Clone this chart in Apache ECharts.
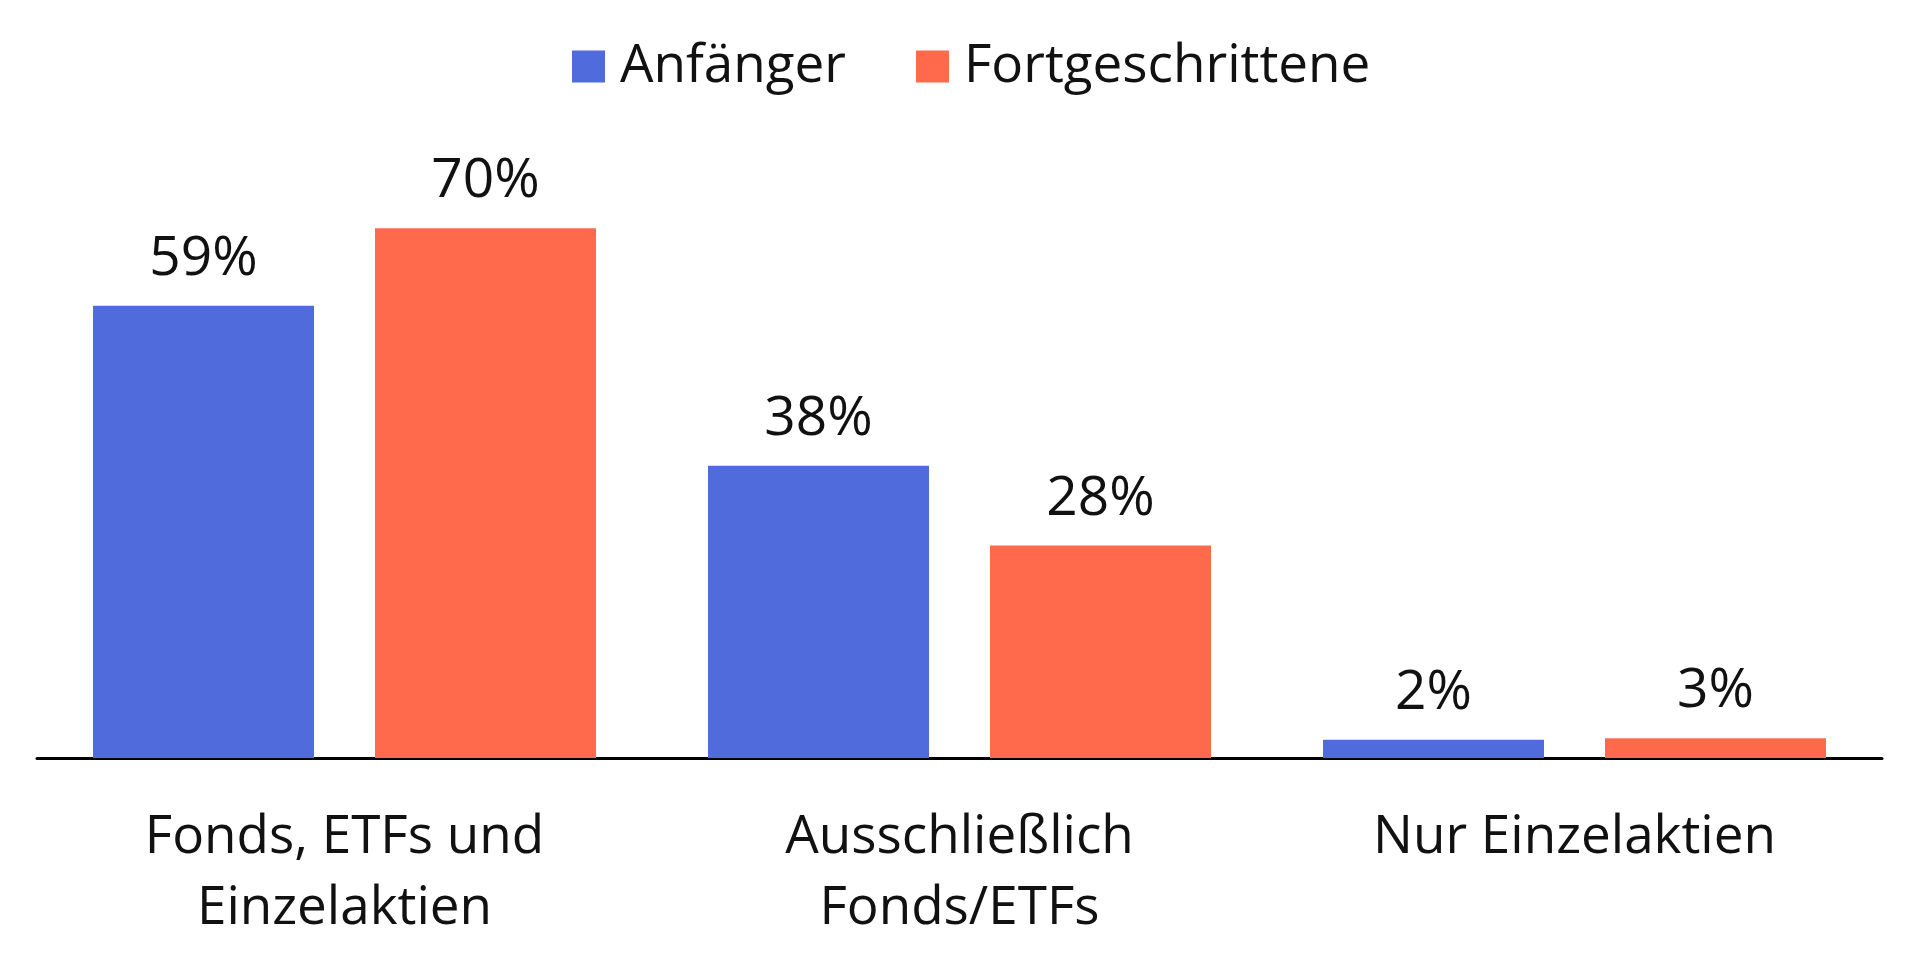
<!DOCTYPE html>
<html>
<head>
<meta charset="utf-8">
<script src="https://cdn.jsdelivr.net/npm/echarts@6/dist/echarts.min.js"></script>
<style>
html,body{margin:0;padding:0;background:#fff;}
#chart{width:1920px;height:961px;}
</style>
</head>
<body>
<div id="chart"></div>
<script>
var categories = ["Fonds, ETFs und\nEinzelaktien", "Ausschließlich\nFonds/ETFs", "Nur Einzelaktien"];
var seriesNames = ["Anfänger", "Fortgeschrittene"];
var anfaenger = [59.4, 38.4, 2.4];
var fortgeschrittene = [69.6, 27.9, 2.6];
var colors = ["#4F6BDC", "#FF6A4D"];

var FONT = "Open Sans";
var chart = echarts.init(document.getElementById('chart'), null, {renderer: 'canvas'});
function labelCfg() {
  return {
    show: true,
    position: 'top',
    distance: 19,
    fontFamily: FONT,
    fontSize: 55,
    color: '#111',
    formatter: function (p) { return Math.round(p.value) + '%'; }
  };
}
chart.setOption({
  animation: false,
  backgroundColor: '#fff',
  color: colors,
  legend: {
    data: seriesNames,
    top: 35,
    left: 567,
    itemWidth: 33,
    itemHeight: 32,
    itemGap: 70,
    icon: 'rect',
    textStyle: {fontFamily: FONT, fontSize: 53, color: '#111', padding: [0, 0, 0, 10]}
  },
  grid: {left: 37, right: 38, top: 149, bottom: 203, containLabel: false},
  xAxis: {
    type: 'category',
    data: categories,
    axisLine: {show: true, lineStyle: {color: '#000', width: 3}},
    axisTick: {show: false},
    axisLabel: {fontFamily: FONT, fontSize: 53, lineHeight: 71, color: '#111', margin: 44, interval: 0}
  },
  yAxis: {
    type: 'value', min: 0, max: 80,
    show: false,
    splitLine: {show: false}
  },
  series: [
    {name: seriesNames[0], type: 'bar', data: anfaenger, barWidth: 221, barGap: '27.6%', label: labelCfg()},
    {name: seriesNames[1], type: 'bar', data: fortgeschrittene, barWidth: 221, barGap: '27.6%', label: labelCfg()}
  ]
});
</script>
</body>
</html>
